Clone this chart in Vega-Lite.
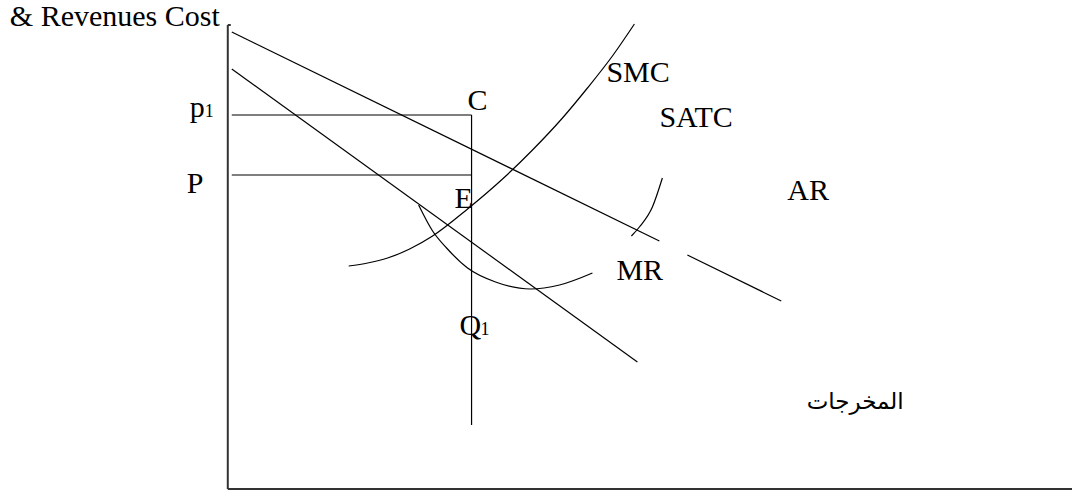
{
  "$schema": "https://vega.github.io/schema/vega-lite/v6.json",
  "autosize": {"type": "fit", "contains": "padding"},
  "width": 1073,
  "height": 492,
  "padding": 0,
  "background": "white",
  "config": {"view": {"stroke": null}},
  "datasets": {
    "axes": [
      {"x": 0, "y": 0, "x2": 0, "y2": 464},
      {"x": 0, "y": 0, "x2": 845, "y2": 0},
      {"x": 0, "y": 464, "x2": 3, "y2": 464}
    ],
    "curves": [
      {"s": "AR1", "i": 0, "x": 4, "y": 457},
      {"s": "AR1", "i": 1, "x": 432, "y": 248},
      {"s": "AR2", "i": 0, "x": 460, "y": 234},
      {"s": "AR2", "i": 1, "x": 554, "y": 188},
      {"s": "MR", "i": 0, "x": 4, "y": 420},
      {"s": "MR", "i": 1, "x": 410, "y": 127},
      {"s": "p1", "i": 0, "x": 4, "y": 374},
      {"s": "p1", "i": 1, "x": 244, "y": 374},
      {"s": "P", "i": 0, "x": 4, "y": 314},
      {"s": "P", "i": 1, "x": 244, "y": 314},
      {"s": "Q1", "i": 0, "x": 244, "y": 374},
      {"s": "Q1", "i": 1, "x": 244, "y": 64},
      {"s": "SMC", "i": 0, "x": 121, "y": 223},
      {"s": "SMC", "i": 1, "x": 140, "y": 226},
      {"s": "SMC", "i": 2, "x": 160, "y": 231},
      {"s": "SMC", "i": 3, "x": 182, "y": 240},
      {"s": "SMC", "i": 4, "x": 205, "y": 253},
      {"s": "SMC", "i": 5, "x": 240, "y": 280},
      {"s": "SMC", "i": 6, "x": 275, "y": 310},
      {"s": "SMC", "i": 7, "x": 305, "y": 339},
      {"s": "SMC", "i": 8, "x": 335, "y": 371},
      {"s": "SMC", "i": 9, "x": 360, "y": 401},
      {"s": "SMC", "i": 10, "x": 385, "y": 433},
      {"s": "SMC", "i": 11, "x": 407, "y": 465},
      {"s": "SATC1", "i": 0, "x": 191, "y": 284},
      {"s": "SATC1", "i": 1, "x": 205, "y": 258},
      {"s": "SATC1", "i": 2, "x": 219, "y": 241},
      {"s": "SATC1", "i": 3, "x": 240, "y": 221},
      {"s": "SATC1", "i": 4, "x": 268, "y": 207},
      {"s": "SATC1", "i": 5, "x": 303, "y": 200},
      {"s": "SATC1", "i": 6, "x": 332, "y": 204},
      {"s": "SATC1", "i": 7, "x": 365, "y": 216},
      {"s": "SATC2", "i": 0, "x": 404, "y": 253},
      {"s": "SATC2", "i": 1, "x": 412, "y": 262},
      {"s": "SATC2", "i": 2, "x": 425, "y": 282},
      {"s": "SATC2", "i": 3, "x": 435, "y": 311}
    ],
    "labels": [
      {"t": "SMC", "x": 379, "y": 407},
      {"t": "SATC", "x": 432, "y": 362},
      {"t": "C", "x": 240, "y": 379},
      {"t": "p", "x": -38, "y": 372},
      {"t": "P", "x": -41, "y": 296},
      {"t": "E", "x": 227, "y": 281},
      {"t": "AR", "x": 560, "y": 289},
      {"t": "MR", "x": 389, "y": 209},
      {"t": "Q", "x": 232, "y": 154}
    ],
    "subs": [
      {"t": "1", "x": -23, "y": 372},
      {"t": "1", "x": 253, "y": 154}
    ],
    "title": [
      {"t": "& Revenues Cost", "x": -8, "y": 463}
    ],
    "arabic": [
      {"t": "المخرجات", "x": 628, "y": 80}
    ]
  },
  "layer": [
    {
      "data": {"name": "axes"},
      "mark": {"type": "rule", "color": "#333333", "strokeWidth": 2},
      "encoding": {
        "x": {"field": "x", "type": "quantitative", "scale": {"domain": [-228, 845], "nice": false, "zero": false}, "axis": null},
        "y": {"field": "y", "type": "quantitative", "scale": {"domain": [-3, 489], "nice": false, "zero": false}, "axis": null},
        "x2": {"field": "x2"},
        "y2": {"field": "y2"}
      }
    },
    {
      "data": {"name": "curves"},
      "mark": {"type": "line", "color": "black", "strokeWidth": 1.2, "interpolate": "monotone"},
      "encoding": {
        "x": {"field": "x", "type": "quantitative", "axis": null},
        "y": {"field": "y", "type": "quantitative", "axis": null},
        "detail": {"field": "s", "type": "nominal"},
        "order": {"field": "i", "type": "quantitative"}
      }
    },
    {
      "data": {"name": "labels"},
      "mark": {"type": "text", "font": "Liberation Serif", "fontSize": 30, "align": "left", "baseline": "alphabetic", "color": "black"},
      "encoding": {
        "x": {"field": "x", "type": "quantitative", "axis": null},
        "y": {"field": "y", "type": "quantitative", "axis": null},
        "text": {"field": "t", "type": "nominal"}
      }
    },
    {
      "data": {"name": "subs"},
      "mark": {"type": "text", "font": "Liberation Serif", "fontSize": 18, "align": "left", "baseline": "alphabetic", "color": "black"},
      "encoding": {
        "x": {"field": "x", "type": "quantitative", "axis": null},
        "y": {"field": "y", "type": "quantitative", "axis": null},
        "text": {"field": "t", "type": "nominal"}
      }
    },
    {
      "data": {"name": "title"},
      "mark": {"type": "text", "font": "Liberation Serif", "fontSize": 30, "align": "right", "baseline": "alphabetic", "color": "black"},
      "encoding": {
        "x": {"field": "x", "type": "quantitative", "axis": null},
        "y": {"field": "y", "type": "quantitative", "axis": null},
        "text": {"field": "t", "type": "nominal"}
      }
    },
    {
      "data": {"name": "arabic"},
      "mark": {"type": "text", "font": "DejaVu Sans", "fontSize": 23, "align": "center", "baseline": "alphabetic", "color": "black"},
      "encoding": {
        "x": {"field": "x", "type": "quantitative", "axis": null},
        "y": {"field": "y", "type": "quantitative", "axis": null},
        "text": {"field": "t", "type": "nominal"}
      }
    }
  ]
}
